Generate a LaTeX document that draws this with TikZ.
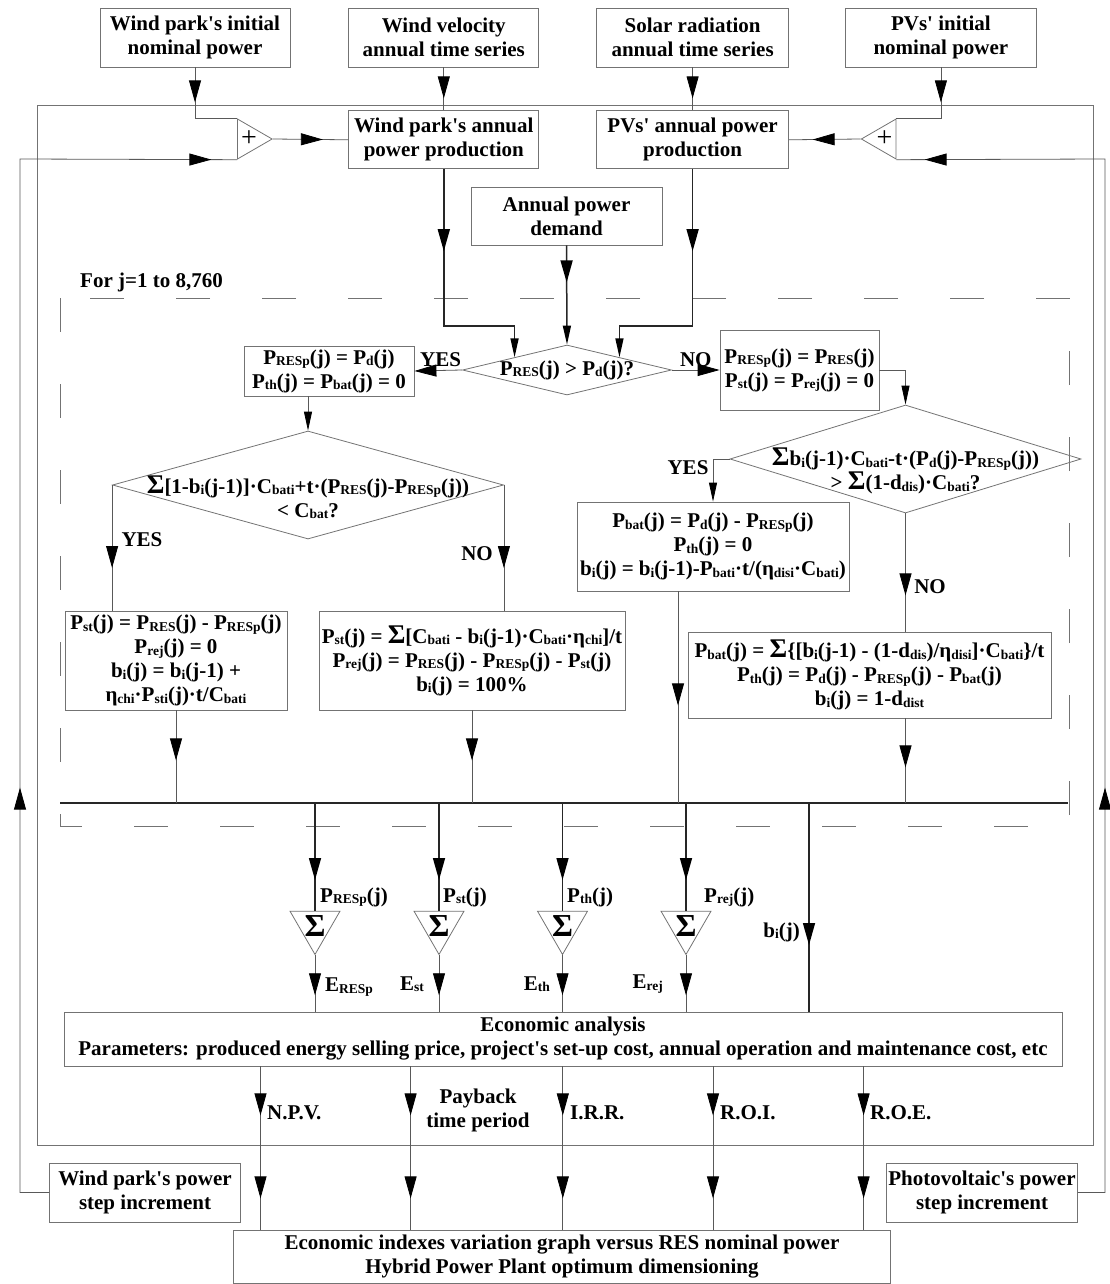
\documentclass[tikz,border=0pt]{standalone}
\usepackage{fontspec}
\setmainfont{Liberation Serif}[Ligatures=TeXOff]
\usetikzlibrary{shapes.geometric, arrows.meta, positioning, decorations.markings}

\newcommand{\boxfont}{\fontsize{21}{24}\selectfont\bfseries}
\newcommand{\sigfont}{\fontsize{32}{32}\selectfont\bfseries}
\newcommand{\plusfont}{\fontsize{28}{28}\selectfont}
\newcommand{\sbs}[1]{\raisebox{-1.5pt}{\fontsize{13.5}{14}\selectfont #1}}
\newcommand{\bigsig}{{\fontsize{27}{24}\selectfont Σ}}

\tikzset{bigtip/.tip={Triangle[length=22pt,width=12pt,color=black]},
  smtip/.tip={Triangle[length=19pt,width=8pt,color=black]},
  tipat/.style={postaction={decorate,decoration={markings,
    mark=at position #1 with {\arrow{Triangle[length=22pt,width=12pt,color=black]}}}}}}

\tikzstyle{box} = [rectangle, draw=black!55, line width=0.8pt,
minimum width=190pt, minimum height=58pt, inner sep=0pt,
align=center, font=\boxfont]
\tikzstyle{decision} = [diamond, draw=black!55, line width=0.8pt, inner sep=0pt]
\tikzstyle{summer} = [regular polygon, regular polygon sides=3,
draw=black!55, line width=0.8pt, minimum size=46.2pt, inner sep=0pt]
\tikzstyle{sigma} = [regular polygon, regular polygon sides=3,
shape border rotate=180, draw=black!55, line width=0.8pt,
minimum size=57.7pt, inner sep=0pt]
\tikzstyle{lbl} = [inner sep=0pt, align=center, font=\boxfont]
\tikzstyle{wire} = [draw=black!65, line width=0.8pt]
\tikzstyle{thickwire} = [draw=black!85, line width=1.5pt]
\tikzstyle{outerframe} = [draw=black!55, line width=0.9pt]
\tikzstyle{loopbox} = [draw=black!55, line width=0.9pt, dash pattern=on 34pt off 52pt]

\begin{document}
\begin{tikzpicture}[x=1pt, y=-1pt]
\useasboundingbox (0,0) rectangle (1110,1284);

\draw[outerframe] (37,105) rectangle (1093,1145);
\draw[loopbox] (60,298) rectangle (1069,826);
\node (loopname) [lbl, anchor=west] at (80,282) {For j=1 to 8,760};

\node (wpinit) [box, minimum height=59pt] at (195,37.5) {Wind park's initial\\nominal power};
\node (wvel) [box, minimum height=59pt, right=58pt of wpinit] {Wind velocity\\annual time series};
\node (solar) [box, minimum width=192pt, minimum height=59pt, right=57pt of wvel] {Solar radiation\\annual time series};
\node (pvinit) [box, minimum width=191pt, minimum height=59pt, right=56pt of solar] {PVs' initial\\nominal power};
\node (wpann) [box, below=43pt of wvel] {Wind park's annual\\power production};
\node (pvann) [box, minimum width=192pt, below=43pt of solar] {PVs' annual power\\production};
\node (demand) [box, minimum width=191pt] at (566.5,216) {Annual power\\demand};

\node (sumw) [summer, shape border rotate=-90, label={[lbl, font=\plusfont]center:+}] at (249,139) {};
\node (sume) [summer, shape border rotate=90, label={[lbl, font=\plusfont]center:+}] at (884.5,139) {};

\node (wpstep) [box, minimum width=191pt, minimum height=59pt] at (145,1192.5) {Wind park's power\\step increment};
\node (pvstep) [box, minimum width=191pt, minimum height=59pt] at (982,1192.5) {Photovoltaic's power\\step increment};
\coordinate (wback) at (20,159);
\coordinate (eback) at (1105,159);

\draw[wire, tipat=35pt] (wpinit.south) |- (sumw.corner 2);
\draw[wire, tipat=35pt] (pvinit.south) |- (sume.corner 3);
\draw[wire, tipat=31pt] (wvel.south) -- (wpann.north);
\draw[wire, tipat=31pt] (solar.south) -- (pvann.north);
\draw[wire, tipat=50pt] (sumw.corner 1) -- (wpann.west);
\draw[wire, tipat=48pt] (sume.corner 1) -- (pvann.east);
\draw[wire, tipat=434pt, tipat=1254pt] (wpstep.west) -| (wback) -- (sumw.corner 3);
\draw[wire, tipat=432pt, tipat=1241pt] (pvstep.east) -| (eback) -- (sume.corner 2);

% hourly loop
\node (cmp) [decision, minimum width=209pt, minimum height=50pt] at (567,370) {};
\node (cmptxt) [lbl] at (cmp) {P\sbs{RES}(j) > P\sbs{d}(j)?};
\draw[thickwire, tipat=82pt, -smtip] (wpann.south) -- ++(0,157) -| (cmp.north west);
\draw[thickwire, tipat=82pt, -smtip] (pvann.south) -- ++(0,157) -| (cmp.north east);
\draw[thickwire, tipat=37pt, -smtip] (demand.south) -- (cmp.north);

\node (yes1) [box, minimum width=170pt, minimum height=50pt] at (329,371) {P\sbs{RESp}(j) = P\sbs{d}(j)\\P\sbs{th}(j) = P\sbs{bat}(j) = 0};
\node (no1) [box, minimum width=159pt, minimum height=80pt] at (799.5,370) {P\sbs{RESp}(j) = P\sbs{RES}(j)\\P\sbs{st}(j) = P\sbs{rej}(j) = 0};
\draw[wire, -bigtip] (cmp.west) -- (yes1.east) node[lbl, pos=0.45, above=3pt] (yeslbl1) {YES};
\draw[wire, -bigtip] (cmp.east) -- (no1.west) node[lbl, pos=0.5, above=3pt] (nolbl1) {NO};

\node (chg) [decision, minimum width=391pt, minimum height=108pt] at (308,485) {};
\node (chgtxt) [lbl] at ([yshift=-12pt]chg.center) {\bigsig[1-b\sbs{i}(j-1)]·C\sbs{bati}+t·(P\sbs{RES}(j)-P\sbs{RESp}(j))\\< C\sbs{bat}?};
\node (dis) [decision, minimum width=351pt, minimum height=108pt] at (905.5,459) {};
\node (distxt) [lbl] at ([yshift=-12pt]dis.center) {\bigsig b\sbs{i}(j-1)·C\sbs{bati}-t·(P\sbs{d}(j)-P\sbs{RESp}(j))\\> \bigsig(1-d\sbs{dis})·C\sbs{bati}?};
\draw[wire, -smtip] (chg.north |- yes1.south) -- (chg.north);
\draw[wire, -smtip] (no1.east) -| (dis.north);

\node (yesc) [box, minimum width=222pt, minimum height=99pt] at (176,660.5) {P\sbs{st}(j) = P\sbs{RES}(j) - P\sbs{RESp}(j)\\P\sbs{rej}(j) = 0\\b\sbs{i}(j) = b\sbs{i}(j-1) +\\η\sbs{chi}·P\sbs{sti}(j)·t/C\sbs{bati}};
\node (noc) [box, minimum width=306pt, minimum height=99pt] at (472,660.5) {P\sbs{st}(j) = \bigsig[C\sbs{bati} - b\sbs{i}(j-1)·C\sbs{bati}·η\sbs{chi}]/t\\P\sbs{rej}(j) = P\sbs{RES}(j) - P\sbs{RESp}(j) - P\sbs{st}(j)\\b\sbs{i}(j) = 100\%};
\node (yesd) [box, minimum width=272pt, minimum height=89pt] at (713,546.5) {P\sbs{bat}(j) = P\sbs{d}(j) - P\sbs{RESp}(j)\\P\sbs{th}(j) = 0\\b\sbs{i}(j) = b\sbs{i}(j-1)-P\sbs{bati}·t/(η\sbs{disi}·C\sbs{bati})};
\node (nod) [box, minimum width=363pt, minimum height=86pt] at (869.5,675) {P\sbs{bat}(j) = \bigsig\{[b\sbs{i}(j-1) - (1-d\sbs{dis})/η\sbs{disi}]·C\sbs{bati}\}/t\\P\sbs{th}(j) = P\sbs{d}(j) - P\sbs{RESp}(j) - P\sbs{bat}(j)\\b\sbs{i}(j) = 1-d\sbs{dist}};

\draw[wire, tipat=83pt] (chg.west) -- (chg.west |- yesc.north);
\draw[wire, tipat=83pt] (chg.east) -- (chg.east |- noc.north);
\draw[wire, -smtip] (dis.west) -| (yesd.north);
\draw[wire, tipat=82pt] (dis.south) -- (dis.south |- nod.north);
\node (yeslbl2) [lbl] at (142,540) {YES};
\node (nolbl2) [lbl] at (477,554) {NO};
\node (yeslbl3) [lbl] at (688,468) {YES};
\node (nolbl3) [lbl] at (930,587) {NO};

\coordinate (busw) at (60,803);
\coordinate (buse) at (1068,803);
\coordinate (ydrop) at (678,0);
\coordinate (bcol) at (809,0);
\draw[thickwire] (busw) -- (buse);
\draw[wire, tipat=50pt] (yesc.south) -- (yesc.south |- busw);
\draw[wire, tipat=50pt] (noc.south) -- (noc.south |- busw);
\draw[wire, tipat=114pt] (yesd.south -| ydrop) -- (busw -| ydrop);
\draw[wire, tipat=49pt] (dis.south |- nod.south) -- (dis.south |- busw);

% energy sums
\node (econ) [box, minimum width=998pt, minimum height=54pt] at (563,1039) {Economic analysis\\Parameters: produced energy selling price, project's set-up cost, annual operation and maintenance cost, etc};
\foreach \nm/\xs in {s1/315, s2/439, s3/562.5, s4/686} {
  \node (\nm) [sigma, label={[lbl, font=\sigfont]center:Σ}] at (\xs,925.6) {};
  \draw[thickwire, tipat=77pt] (\nm.north |- busw) -- (\nm.north);
  \draw[wire, tipat=40pt] (\nm.corner 1) -- (\nm.corner 1 |- econ.north);
}
\draw[thickwire, tipat=142pt] (bcol |- busw) -- (bcol |- econ.north);

\node (lpresp) [lbl, anchor=west] at (320,897) {P\sbs{RESp}(j)};
\node (lpst) [lbl, anchor=west] at (443,897) {P\sbs{st}(j)};
\node (lpth) [lbl, anchor=west] at (567,897) {P\sbs{th}(j)};
\node (lprej) [lbl, anchor=west] at (704,897) {P\sbs{rej}(j)};
\node (leresp) [lbl, anchor=west] at (325,987) {E\sbs{RESp}};
\node (lest) [lbl, anchor=east] at (424,984) {E\sbs{st}};
\node (leth) [lbl, anchor=east] at (550,984) {E\sbs{th}};
\node (lerej) [lbl, anchor=east] at (663,984) {E\sbs{rej}};
\node (lbi) [lbl, anchor=east] at (800,932) {b\sbs{i}(j)};

% economic indexes
\node (final) [box, minimum width=657pt, minimum height=53pt] at (562,1256.5) {Economic indexes variation graph versus RES nominal power\\Hybrid Power Plant optimum dimensioning};
\foreach \xo [count=\i] in {260.5,410.6,562.8,713,863.6} {
  \coordinate (out\i) at (\xo,1145);
  \draw[wire, tipat=49pt, tipat=132pt] (econ.south -| out\i) -- (final.north -| out\i);
}
\node (lnpv) [lbl, anchor=west] at (267,1113) {N.P.V.};
\node (lpbk) [lbl] at (478,1110) {Payback\\time period};
\node (lirr) [lbl, anchor=west] at (570,1113) {I.R.R.};
\node (lroi) [lbl, anchor=west] at (720,1113) {R.O.I.};
\node (lroe) [lbl, anchor=west] at (870,1113) {R.O.E.};

\end{tikzpicture}
\end{document}
